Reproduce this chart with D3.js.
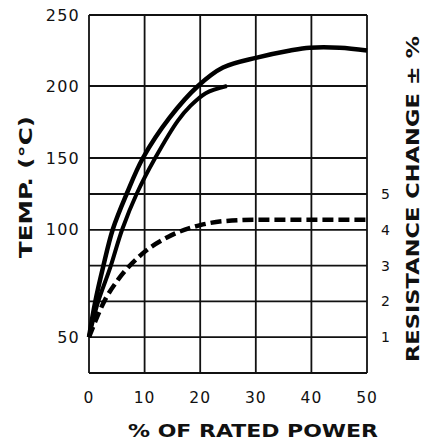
<!DOCTYPE html>
<html>
<head>
<meta charset="utf-8">
<script src="https://cdn.jsdelivr.net/npm/d3@7"></script>
<style>
  body { margin: 0; background: #fff; }
  text { font-family: "DejaVu Sans", "Liberation Sans", sans-serif; fill: #111; }
</style>
</head>
<body>
<svg id="chart" width="423" height="441"></svg>
<script>
// data
const powerTicks = [0, 10, 20, 30, 40, 50];
const tempTicks = [50, 100, 150, 200, 250];
const resTicks = [1, 2, 3, 4, 5];

// upper temperature curve (% power, deg C)
const upperPower = [0, 1.1, 2.5, 4.3, 6.8, 9.7, 14.5, 19.6, 24.1, 30.2, 36.2, 39.7, 45.1, 50];
const upperTemp  = [50, 66, 82, 100, 125, 150, 178, 200, 213, 220, 225, 227, 227, 225];

// lower temperature curve
const lowerPower = [0, 1.6, 3.8, 6.0, 8.6, 11.9, 16, 18.2, 21, 24.8];
const lowerTemp  = [50, 66, 82, 100, 125, 150, 176, 186, 195, 200];

// resistance change (dashed)
const resPower = [0, 2.9, 5.2, 9.5, 14.2, 20, 24.1, 30, 40, 50];
const resChange = [1, 2.05, 2.6, 3.32, 3.8, 4.13, 4.24, 4.28, 4.28, 4.28];

const draw = () => {
    const svg = d3.select("#chart");
    const left = 89, right = 367, top = 15, bottom = 373;

    const x = d3.scaleLinear().domain([0, 50]).range([left, right]);
    // temperature scale is not linear on the original sheet
    const yT = d3.scaleLinear().domain([50, 100, 150, 200, 250]).range([337, 229, 158, 86, top]);
    const yR = d3.scaleLinear().domain([0, 5]).range([bottom, 194]);

    const grid = svg.append("g").attr("stroke", "#111").attr("stroke-width", 1.8);

    grid.selectAll(".v").data(powerTicks).enter().append("line")
        .attr("x1", d => x(d)).attr("x2", d => x(d))
        .attr("y1", top).attr("y2", bottom);

    grid.selectAll(".ht").data([150, 200, 250]).enter().append("line")
        .attr("x1", left).attr("x2", right)
        .attr("y1", d => yT(d)).attr("y2", d => yT(d));

    grid.selectAll(".hr").data([0, 1, 2, 3, 4, 5]).enter().append("line")
        .attr("x1", left).attr("x2", right)
        .attr("y1", d => yR(d)).attr("y2", d => yR(d));

    // tick labels
    svg.selectAll(".tl").data(tempTicks).enter().append("text")
        .attr("x", 80).attr("y", d => yT(d) + 6)
        .attr("text-anchor", "end").attr("font-size", 16)
        .attr("letter-spacing", 1.2)
        .text(d => d);

    svg.selectAll(".rl").data(resTicks).enter().append("text")
        .attr("x", 381).attr("y", d => yR(d) + 5)
        .attr("font-size", 14)
        .text(d => d);

    svg.selectAll(".xl").data(powerTicks).enter().append("text")
        .attr("x", d => x(d)).attr("y", 403)
        .attr("text-anchor", "middle").attr("font-size", 15.5)
        .attr("letter-spacing", 1)
        .text(d => d);

    // titles
    svg.append("text")
        .attr("transform", "translate(32,187) rotate(-90)")
        .attr("text-anchor", "middle").attr("font-size", 17).attr("font-weight", "bold")
        .attr("textLength", 142).attr("lengthAdjust", "spacingAndGlyphs")
        .text("TEMP. (°C)");

    svg.append("text")
        .attr("transform", "translate(419,199) rotate(-90)")
        .attr("text-anchor", "middle").attr("font-size", 17).attr("font-weight", "bold")
        .attr("textLength", 326).attr("lengthAdjust", "spacingAndGlyphs")
        .text("RESISTANCE CHANGE ± %");

    svg.append("text")
        .attr("x", 253).attr("y", 437)
        .attr("text-anchor", "middle").attr("font-size", 18).attr("font-weight", "bold")
        .attr("textLength", 250).attr("lengthAdjust", "spacingAndGlyphs")
        .text("% OF RATED POWER");

    // curves
    const tempLine = d3.line()
        .x(d => x(d[0])).y(d => yT(d[1]))
        .curve(d3.curveCatmullRom.alpha(0.5));
    const resLine = d3.line()
        .x(d => x(d[0])).y(d => yR(d[1]))
        .curve(d3.curveMonotoneX);

    svg.append("path")
        .datum(d3.zip(upperPower, upperTemp))
        .attr("d", tempLine)
        .attr("fill", "none").attr("stroke", "#000").attr("stroke-width", 4.5);

    svg.append("path")
        .datum(d3.zip(lowerPower, lowerTemp))
        .attr("d", tempLine)
        .attr("fill", "none").attr("stroke", "#000").attr("stroke-width", 4);

    svg.append("path")
        .datum(d3.zip(resPower, resChange))
        .attr("d", resLine)
        .attr("fill", "none").attr("stroke", "#000").attr("stroke-width", 4.5)
        .attr("stroke-dasharray", "11,5");
};

document.addEventListener("DOMContentLoaded", draw);
</script>
</body>
</html>
